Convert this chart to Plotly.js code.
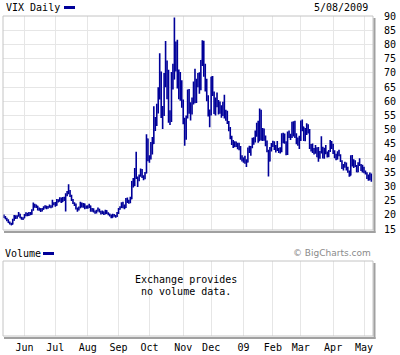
<!DOCTYPE html>
<html><head><meta charset="utf-8">
<script src="https://cdn.plot.ly/plotly-3.0.1.min.js"></script>
<style>html,body{margin:0;padding:0;background:#fff;}#chart{width:400px;height:355px;}</style>
</head><body><div id="chart"></div>
<script>
// ---- data (VIX daily, 12 May 2008 .. 8 May 2009) ----
const startDate = '2008-05-12';
const endDate = '2009-05-08';
const holidays = ['2008-05-26','2008-07-04','2008-09-01','2008-11-27','2008-12-25',
                  '2009-01-01','2009-01-19','2009-02-16','2009-04-10'];

const open = [
 19.6,19.2,18.5,18.1,17.3,16.8,16.7,18.1,19.5,18.9,19.8,20.2,19.0,18.7,
 18.9,19.8,20.4,19.9,20.5,20.2,21.7,23.5,22.8,23.0,21.9,22.1,21.5,22.0,22.5,23.0,22.4,22.8,23.1,22.8,24.1,
 23.9,23.4,25.1,24.9,25.8,24.6,25.9,25.3,26.9,27.7,28.3,26.7,25.2,24.1,23.7,22.3,21.8,22.5,24.0,22.9,23.8,22.4,
 22.9,22.6,23.1,21.4,22.0,21.2,20.8,21.4,21.9,21.1,20.5,21.0,20.3,21.4,20.6,20.2,19.8,19.1,20.0,19.6,19.4,
 20.6,22.0,22.6,24.0,22.6,22.6,25.5,24.6,24.4,25.7,31.7,30.3,36.2,33.1,32.1,33.9,35.7,33.5,32.8,34.7,46.7,
 39.4,39.8,45.3,45.1,52.1,53.7,57.5,63.9,70.0,55.0,55.1,69.3,67.6,70.3,53.0,53.1,69.7,67.8,79.1,80.1,67.0,70.0,62.9,
 59.9,53.7,47.7,54.6,63.7,56.1,56.3,60.0,66.5,59.8,66.3,67.6,64.7,74.3,80.9,72.7,64.7,60.9,54.9,
 55.3,68.5,62.6,55.7,59.9,59.9,58.9,57.9,55.7,59.2,54.3,56.1,52.4,49.8,47.3,44.9,45.4,44.2,45.0,43.4,43.9,39.9,
 40.0,39.2,39.1,38.6,43.4,42.8,43.8,46.4,45.8,49.0,51.0,46.1,56.7,46.4,47.3,47.3,45.7,42.3,39.0,43.6,
 44.8,45.4,43.1,43.9,43.1,43.4,42.4,48.4,45.8,45.6,41.3,48.9,47.6,47.5,49.2,52.6,47.5,45.2,46.6,
 46.4,52.7,50.9,46.3,50.2,49.3,49.7,43.6,43.1,42.0,42.4,43.4,40.5,40.4,42.1,43.7,40.1,43.2,41.6,40.7,42.5,45.5,
 44.1,42.3,40.4,39.7,41.6,40.9,38.9,36.5,37.4,38.0,36.2,35.3,33.9,40.4,37.4,38.8,37.1,35.2,37.9,37.5,35.6,
 36.5,35.3,34.5,33.0,32.4,34.3
];
const high = [
 20.1,19.6,19.0,18.4,17.6,17.2,18.6,19.9,19.8,19.8,21.0,20.4,19.3,19.1,
 20.3,20.9,20.7,21.0,21.0,22.0,24.3,23.9,23.6,23.2,22.6,22.3,22.4,23.0,23.4,23.2,23.1,23.6,23.4,25.3,24.4,
 24.5,25.6,25.5,26.2,26.1,26.3,26.4,27.6,28.4,30.8,28.7,27.1,25.6,24.4,24.0,22.6,22.9,24.6,24.3,24.2,24.0,23.3,
 23.4,23.9,23.3,22.4,22.3,21.5,21.8,22.6,22.1,21.4,21.5,21.2,21.8,21.6,20.9,20.5,20.1,20.4,20.3,19.9,21.0,
 22.4,23.0,24.4,24.6,23.6,25.9,26.1,25.3,26.4,31.9,33.0,36.5,42.2,33.5,34.2,36.3,36.1,33.9,35.1,48.4,46.9,
 41.0,45.6,47.4,58.2,54.4,59.1,64.9,76.9,70.5,58.3,69.9,81.2,74.3,71.1,56.8,70.3,73.2,89.5,81.0,81.6,71.2,70.3,67.4,
 60.6,54.2,55.0,64.1,64.3,59.6,61.3,66.9,71.4,67.9,69.9,70.2,74.5,81.5,81.3,73.2,67.9,62.1,57.1,
 68.6,68.9,63.4,61.3,63.1,60.4,59.9,58.6,59.8,62.3,57.0,56.6,53.0,50.9,47.8,46.3,45.9,45.8,45.4,45.4,44.2,41.0,
 40.2,40.8,39.6,43.7,44.3,44.2,47.1,47.3,49.7,52.4,53.1,57.4,57.0,50.6,50.4,47.9,46.2,42.9,43.9,45.3,
 46.1,45.9,44.6,46.0,43.5,43.8,48.7,48.9,48.6,45.9,49.3,49.7,48.5,52.8,52.9,53.1,48.7,47.2,47.8,
 53.2,53.6,51.0,50.6,52.2,51.9,50.2,44.9,45.1,43.5,44.6,43.8,43.9,42.5,47.7,44.0,43.6,44.6,42.3,42.8,46.3,46.0,
 45.0,42.7,41.5,42.4,42.9,41.3,39.2,37.9,38.7,38.4,36.9,35.6,41.0,41.1,39.6,39.2,37.5,38.5,39.9,37.9,37.6,
 36.9,35.6,35.0,34.2,34.9,34.5
];
const low = [
 18.9,18.4,17.7,17.1,16.6,16.3,16.6,17.9,18.5,18.6,19.3,18.8,18.3,18.2,
 18.8,19.5,19.5,19.6,19.8,20.0,21.4,22.5,22.4,21.5,21.4,21.0,21.2,21.8,22.2,22.0,22.1,22.5,22.3,22.6,23.4,
 22.8,23.2,24.3,24.6,24.2,24.5,24.9,21.2,26.5,27.2,26.3,24.9,23.8,23.1,21.9,21.1,21.5,22.3,22.6,22.5,22.0,22.1,
 22.1,22.4,21.1,21.1,20.8,20.4,20.5,21.2,20.8,20.1,20.3,19.9,20.2,20.3,19.8,19.4,18.8,19.0,19.3,19.0,19.2,
 20.3,21.8,22.4,22.3,22.0,22.4,24.2,23.9,24.1,25.5,29.6,30.1,32.6,29.8,31.8,33.4,33.0,32.2,32.5,34.5,38.9,
 38.3,39.5,41.2,44.9,49.5,51.3,55.7,60.6,54.1,50.2,54.8,64.9,60.7,52.4,51.6,52.7,64.1,67.6,70.5,64.5,60.7,60.2,57.7,
 51.9,44.3,46.4,53.9,55.6,53.2,55.3,58.8,59.3,59.4,64.9,62.6,63.9,72.4,68.6,63.4,60.0,54.6,50.8,
 55.0,61.8,55.5,55.0,57.9,55.3,55.6,54.2,54.8,53.9,53.1,52.0,49.4,46.6,44.6,43.5,43.8,43.9,43.1,42.7,39.4,38.8,
 38.3,38.0,36.8,38.4,41.8,40.8,43.4,44.7,45.5,47.5,45.4,46.0,46.3,46.0,46.1,44.1,42.0,33.5,38.8,42.3,
 43.9,42.8,41.9,42.5,41.8,41.6,42.0,45.2,45.0,41.0,41.1,47.0,46.3,47.0,47.6,47.0,44.8,44.3,43.2,
 46.0,49.4,46.0,45.9,48.1,48.6,43.2,42.3,41.8,41.2,41.5,40.3,38.7,39.7,41.6,39.8,39.7,41.3,40.2,40.3,42.1,43.2,
 41.4,39.9,39.2,39.5,40.6,38.6,36.1,35.6,36.6,35.6,34.8,33.4,33.8,37.0,36.5,36.8,35.0,35.0,37.2,35.4,34.9,
 34.6,34.2,32.6,32.0,32.2,31.6
];
const close = [
 19.2,18.6,18.0,17.3,16.9,16.5,18.2,19.6,18.8,19.5,20.3,19.0,18.7,18.5,
 19.9,20.4,19.8,20.6,20.1,21.6,23.6,22.9,23.1,21.8,22.2,21.4,22.0,22.6,23.0,22.4,22.8,23.2,22.7,24.2,23.9,
 23.4,25.2,24.8,25.8,24.6,25.9,25.3,26.9,27.6,28.4,26.7,25.2,24.1,23.6,22.3,21.7,22.5,24.1,22.9,23.8,22.4,22.9,
 22.6,23.1,21.4,22.0,21.2,20.8,21.4,21.9,21.1,20.5,21.0,20.3,21.4,20.6,20.2,19.8,19.1,20.0,19.6,19.4,20.6,
 22.0,22.6,24.0,22.6,22.6,25.5,24.6,24.4,25.7,31.7,30.3,36.2,33.1,32.1,33.9,35.7,33.5,32.8,34.7,46.7,39.4,
 39.8,45.3,45.1,52.1,53.7,57.5,63.9,70.0,55.0,55.1,69.3,67.6,70.3,53.0,53.1,69.7,67.8,79.1,80.1,67.0,70.0,62.9,59.9,
 53.7,47.7,54.6,63.7,56.1,56.3,60.0,66.5,59.8,66.3,67.6,64.7,74.3,80.9,72.7,64.7,60.9,54.9,55.3,
 68.5,62.6,55.7,59.9,59.9,58.9,57.9,55.7,59.2,54.3,56.1,52.4,49.8,47.3,44.9,45.4,44.2,45.0,43.4,43.9,39.9,40.0,
 39.2,39.1,38.6,43.4,42.8,43.8,46.4,45.8,49.0,51.0,46.1,56.7,46.4,47.3,47.3,45.7,42.3,39.0,43.6,44.8,
 45.4,43.1,43.9,43.1,43.4,42.4,48.4,45.8,45.6,41.3,48.9,47.6,47.5,49.2,52.6,47.5,45.2,46.6,46.4,
 52.7,50.9,46.3,50.2,49.3,49.7,43.6,43.1,42.0,42.4,43.4,40.5,40.4,42.1,43.7,40.1,43.2,41.6,40.7,42.5,45.5,44.1,
 42.3,40.4,39.7,41.6,40.9,38.9,36.5,37.4,38.0,36.2,35.3,33.9,40.4,37.4,38.8,37.1,35.2,37.9,37.5,35.6,36.5,
 35.3,34.5,33.0,32.4,34.3,32.1
];
const monthTicks = ['2008-06-02','2008-07-01','2008-08-01','2008-09-02','2008-10-01','2008-11-03',
                    '2008-12-01','2009-01-02','2009-02-02','2009-03-02','2009-04-01','2009-05-01'];
const monthLabels = ['Jun','Jul','Aug','Sep','Oct','Nov','Dec','09','Feb','Mar','Apr','May'];
const yTicks = [15,20,25,30,35,40,45,50,55,60,65,70,75,80,85,90];

// trading-day calendar (weekdays minus exchange holidays)
function tradingDays(s, e, hol) {
  const out = [];
  const d = new Date(s + 'T00:00:00Z'), end = new Date(e + 'T00:00:00Z');
  while (d <= end) {
    const iso = d.toISOString().slice(0, 10);
    const wd = d.getUTCDay();
    if (wd !== 0 && wd !== 6 && hol.indexOf(iso) < 0) out.push(iso);
    d.setUTCDate(d.getUTCDate() + 1);
  }
  return out;
}
const dates = tradingDays(startDate, endDate, holidays);

// ---- layout geometry ----
const W = 400, H = 355, L = 3, R = 27, T = 16, B = 19;
const PW = W - L - R, PH = H - T - B;
const px = v => (v - L) / PW;
const py = v => (H - B - v) / PH;

const BLUE = '#000099', GRID = '#e6e6e6', FRAME = '#c4c4c4', SHADOW = '#a0a0a0';
const FONT = 'DejaVu Sans Mono';

const trace = {
  type: 'ohlc', x: dates, open: open, high: high, low: low, close: close,
  xaxis: 'x', yaxis: 'y', tickwidth: 0.5,
  increasing: {line: {color: BLUE, width: 1.6}},
  decreasing: {line: {color: BLUE, width: 1.6}},
  hoverinfo: 'skip', showlegend: false
};
const volTrace = {type: 'scatter', mode: 'markers', x: [], y: [], xaxis: 'x', yaxis: 'y2',
  showlegend: false, hoverinfo: 'skip'};

function rect(x0, x1, y0, y1, fill) {
  return {type: 'rect', xref: 'paper', yref: 'paper', x0: px(x0), x1: px(x1), y0: py(y1), y1: py(y0),
    fillcolor: fill, line: {width: 0}, layer: 'above'};
}
function frame(y0, y1) {
  return {type: 'rect', xref: 'paper', yref: 'paper', x0: 0, x1: 1, y0: py(y1), y1: py(y0),
    fillcolor: 'rgba(0,0,0,0)', line: {color: FRAME, width: 1}, layer: 'above'};
}
function ann(text, x, y, xanchor, opts) {
  return Object.assign({text: text, xref: 'paper', yref: 'paper', x: px(x), y: py(y),
    xanchor: xanchor, yanchor: 'middle', showarrow: false, borderpad: 0,
    font: {family: FONT, size: 10, color: '#000'}}, opts || {});
}

const layout = {
  width: W, height: H,
  margin: {l: L, r: R, t: T, b: B, pad: 0},
  paper_bgcolor: '#fff', plot_bgcolor: '#fff',
  font: {family: FONT, size: 10, color: '#000'},
  showlegend: false,
  xaxis: {
    type: 'date', domain: [0, 1], anchor: 'y2',
    range: ['2008-05-09 09:00', '2009-05-11 03:00'],
    rangebreaks: [{bounds: ['sat', 'mon']}, {values: holidays}],
    rangeslider: {visible: false},
    tickmode: 'array', tickvals: monthTicks, ticktext: monthLabels,
    showgrid: true, gridcolor: GRID, gridwidth: 1, zeroline: false, showline: false,
    ticks: '', ticklabelstandoff: 4, tickfont: {family: FONT, size: 10}, fixedrange: true
  },
  yaxis: {
    domain: [py(230), 1], anchor: 'x', side: 'right',
    range: [14.65, 90], tickmode: 'array', tickvals: yTicks,
    showgrid: true, gridcolor: GRID, gridwidth: 1, zeroline: false, showline: false,
    ticks: '', ticklabelstandoff: 10, tickfont: {family: FONT, size: 10}, fixedrange: true
  },
  yaxis2: {
    domain: [0, py(261)], anchor: 'x', range: [0, 1],
    showgrid: false, zeroline: false, showline: false, showticklabels: false, ticks: '', fixedrange: true
  },
  shapes: [
    frame(16, 230),
    rect(373.5, 375.5, 18, 233, SHADOW),
    rect(4, 375.5, 231, 233, SHADOW),
    frame(261, 336),
    rect(373.5, 375.5, 263, 339, SHADOW),
    rect(4, 375.5, 337, 339, SHADOW),
    rect(64, 75, 6, 9, BLUE),
    rect(43, 54, 252, 255, BLUE)
  ],
  annotations: [
    ann('VIX Daily', 5, 7.5, 'left'),
    ann('5/08/2009', 369, 7.5, 'right'),
    ann('Volume', 4, 253.5, 'left'),
    ann('\u00a9 BigCharts.com', 372, 252.5, 'right', {font: {family: 'DejaVu Sans', size: 9, color: '#8a8a8a'}}),
    ann('Exchange provides', 186, 279.5, 'center'),
    ann('no volume data.', 186, 291.5, 'center')
  ]
};

Plotly.newPlot('chart', [trace, volTrace], layout, {staticPlot: true, displayModeBar: false});
</script>
</body></html>
